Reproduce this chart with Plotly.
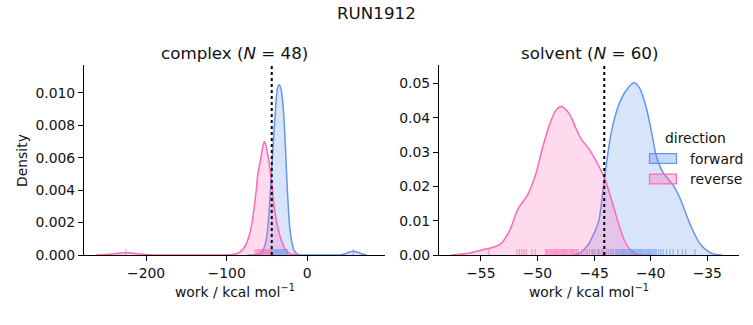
import plotly.graph_objects as go

# ---------------- data ----------------
suptitle = "RUN1912"
panel_titles = ["complex (<i>N</i> = 48)", "solvent (<i>N</i> = 60)"]
hue_labels = ["forward", "reverse"]
legend_title = "direction"
x_label = "work / kcal mol<sup>−1</sup>"
y_label = "Density"

# KDE curves (x in kcal/mol, density)
complex_fwd_x = [-74, -66, -61, -57, -54, -51.2, -49, -47.1, -44.7, -42.2, -40, -38, -36.3, -34.7, -33, -31,
                 -29, -27.3, -25.6, -23.5, -21.5, -19.4, -16.5, -13, -9, -4, 10, 30, 40, 46, 51, 57, 63, 68, 74]
complex_fwd_y = [0, 0.00001, 0.00004, 0.00015, 0.0004, 0.00086, 0.0017, 0.0029, 0.0049, 0.0069, 0.0086, 0.0099,
                 0.0104, 0.0105, 0.0103, 0.0097, 0.0085, 0.0069, 0.0049, 0.0029, 0.0016, 0.00086, 0.0003, 0.00008,
                 0.00001, 0, 0, 0, 0.00001, 0.00006, 0.00016, 0.00024, 0.00016, 0.00006, 0]

complex_rev_x = [-262, -250, -240, -232, -225, -218, -210, -200, -190, -180, -150, -120, -100, -92, -87, -83.5,
                 -79, -74.4, -70, -66, -63.5, -61.6, -59.5, -57.9, -55.5, -53.3, -51, -49.5, -47.9, -45.4, -43,
                 -40.9, -37, -34, -31.8, -28, -24, -19.4, -14, -9]
complex_rev_y = [0, 0.00003, 0.00008, 0.00013, 0.00015, 0.00013, 0.00008, 0.00003, 0.000005, 0, 0, 0, 0.00001,
                 0.00004, 0.0001, 0.0002, 0.0004, 0.00086, 0.0016, 0.0029, 0.0039, 0.0049, 0.0055, 0.0059, 0.0066,
                 0.0070, 0.0067, 0.0063, 0.0059, 0.0049, 0.0039, 0.0029, 0.0018, 0.0012, 0.00086, 0.0004, 0.00015,
                 0.00005, 0.00001, 0]

solvent_fwd_x = [-46.8, -46.4, -45.6, -45.2, -44.6, -44.2, -43.9, -43.5, -42.9, -42.3, -41.5, -41.0, -40.4,
                 -39.9, -39.5, -38.9, -38.0, -37.4, -36.5, -35.6, -34.6, -33.7]
solvent_fwd_y = [0, 0.0003, 0.0027, 0.0050, 0.0098, 0.0193, 0.0269, 0.0355, 0.0431, 0.0473, 0.0502, 0.0488,
                 0.0431, 0.0355, 0.0288, 0.0240, 0.0203, 0.0165, 0.0088, 0.0031, 0.0005, 0]

solvent_rev_x = [-57.6, -56.1, -54.9, -54.0, -53.3, -52.5, -51.7, -50.9, -50.2, -49.6, -49.0, -48.4, -47.9,
                 -47.2, -46.6, -46.1, -45.6, -44.9, -44.05, -43.5, -42.9, -42.3, -41.7, -41.0, -40.0]
solvent_rev_y = [0, 0.0005, 0.0015, 0.0022, 0.0031, 0.0069, 0.0136, 0.0174, 0.0231, 0.0307, 0.0374, 0.0421,
                 0.0433, 0.0412, 0.0369, 0.0336, 0.0316, 0.0279, 0.0222, 0.0165, 0.0098, 0.0041, 0.0012, 0, 0]

# individual work values (rug)
complex_fwd_rug = [-45.0, -43.8, -42.5, -41.6, -40.8, -40.1, -39.5, -39.0, -38.5, -38.0, -37.6, -37.2, -36.8,
                   -36.4, -36.0, -35.7, -35.4, -35.1, -34.8, -34.5, -34.2, -33.9, -33.6, -33.3, -33.0, -32.7,
                   -32.4, -32.1, -31.8, -31.4, -31.0, -30.6, -30.2, -29.8, -29.4, -29.0, -28.5, -28.0, -27.5,
                   -27.0, -26.5, -26.0, -25.5, -25.0, -24.5, -34.6, -37.9, 57.0]
complex_rev_rug = [-225.0, -65.0, -63.5, -62.3, -61.2, -60.3, -59.5, -58.8, -58.1, -57.5, -56.9, -56.4, -55.9,
                   -55.4, -54.9, -54.5, -54.1, -53.7, -53.3, -52.9, -52.5, -52.1, -51.7, -51.3, -50.9, -50.5,
                   -50.1, -49.7, -49.3, -48.9, -48.5, -48.1, -47.7, -47.3, -46.9, -46.5, -46.1, -45.7, -45.3,
                   -44.9, -44.5, -53.5, -55.1, -51.9, -57.2, -49.5, -60.8, -47.5]
solvent_fwd_rug = [-45.1, -44.6, -44.3, -43.9, -43.7, -43.5, -43.3, -43.1, -43.0, -42.9, -42.8, -42.7, -42.6,
                   -42.5, -42.4, -42.3, -42.2, -42.1, -42.0, -41.9, -41.85, -41.8, -41.7, -41.6, -41.55, -41.5,
                   -41.45, -41.4, -41.3, -41.25, -41.2, -41.1, -41.0, -40.95, -40.9, -40.8, -40.7, -40.65, -40.6,
                   -40.5, -40.4, -40.3, -40.2, -40.1, -40.0, -39.9, -39.8, -39.7, -39.6, -39.5, -39.3, -39.1,
                   -38.9, -38.6, -38.3, -38.0, -37.6, -37.2, -36.9, -36.1]
solvent_rev_rug = [-54.3, -51.8, -51.6, -51.4, -51.2, -51.0, -50.5, -50.2, -49.3, -49.2, -49.1, -49.0, -48.9,
                   -48.8, -48.75, -48.7, -48.6, -48.5, -48.4, -48.3, -48.25, -48.2, -48.1, -48.05, -48.0, -47.9,
                   -47.85, -47.8, -47.7, -47.65, -47.6, -47.55, -47.5, -47.45, -47.4, -47.3, -47.2, -47.1, -47.0,
                   -46.9, -46.85, -46.8, -46.7, -46.6, -46.55, -46.5, -46.4, -46.1, -45.9, -45.7, -45.6, -45.4,
                   -45.2, -45.0, -44.9, -44.7, -44.5, -44.2, -43.9, -43.4]

# dotted reference lines (estimate of free energy)
complex_ref = -44.1
solvent_ref = -44.1

complex_xticks = [-200, -100, 0]
complex_xticktext = ["−200", "−100", "0"]
complex_yticks = [0, 0.002, 0.004, 0.006, 0.008, 0.010]
complex_yticktext = ["0.000", "0.002", "0.004", "0.006", "0.008", "0.010"]
solvent_xticks = [-55, -50, -45, -40, -35]
solvent_xticktext = ["−55", "−50", "−45", "−40", "−35"]
solvent_yticks = [0, 0.01, 0.02, 0.03, 0.04, 0.05]
solvent_yticktext = ["0.00", "0.01", "0.02", "0.03", "0.04", "0.05"]

# ---------------- styling ----------------
W, H = 753, 325
BLUE = "rgb(100,149,237)"
PINK = "rgb(255,105,180)"
BLUE_F = "rgba(100,149,237,0.25)"
PINK_F = "rgba(255,105,180,0.25)"
FONT = "DejaVu Sans"
TXT = "#111111"

complex_xrange = [-277, 96.4]
complex_yrange = [0, 0.01169]
solvent_xrange = [-58.7, -32.2]
solvent_yrange = [0, 0.0553]

ax_top, ax_bot = 67, 261.5
ydom = [1 - ax_bot / H, 1 - ax_top / H]
axis_h = ax_bot - ax_top
left_dom = [84 / W, 385 / W]
right_dom = [439 / W, 739 / W]

fig = go.Figure()


def add_panel(xa, ya, fx, fy, rx, ry, frug, rrug, ref, yrange):
    fig.add_trace(go.Scatter(x=fx, y=fy, mode="lines", line=dict(color=BLUE, width=1.5, shape="spline", smoothing=0.8),
                             fill="tozeroy", fillcolor=BLUE_F, xaxis=xa, yaxis=ya, showlegend=False, hoverinfo="skip"))
    fig.add_trace(go.Scatter(x=rx, y=ry, mode="lines", line=dict(color=PINK, width=1.5, shape="spline", smoothing=0.8),
                             fill="tozeroy", fillcolor=PINK_F, xaxis=xa, yaxis=ya, showlegend=False, hoverinfo="skip"))
    rug_len_px = 5
    ymid = yrange[1] * (rug_len_px / 2) / axis_h
    for vals, col in ((frug, BLUE), (rrug, PINK)):
        fig.add_trace(go.Scatter(x=vals, y=[ymid] * len(vals), mode="markers",
                                 marker=dict(symbol="line-ns", size=rug_len_px, color=col,
                                             line=dict(color=col, width=1.2)),
                                 opacity=0.6, xaxis=xa, yaxis=ya, showlegend=False, hoverinfo="skip",
                                 cliponaxis=False))
    fig.add_trace(go.Scatter(x=[ref, ref], y=[yrange[0], yrange[1]], mode="lines",
                             line=dict(color="black", width=2, dash="dot"),
                             xaxis=xa, yaxis=ya, showlegend=False, hoverinfo="skip"))


add_panel("x", "y", complex_fwd_x, complex_fwd_y, complex_rev_x, complex_rev_y,
          complex_fwd_rug, complex_rev_rug, complex_ref, complex_yrange)
add_panel("x2", "y2", solvent_fwd_x, solvent_fwd_y, solvent_rev_x, solvent_rev_y,
          solvent_fwd_rug, solvent_rev_rug, solvent_ref, solvent_yrange)

axis_common = dict(showgrid=False, zeroline=False, showline=True, linecolor="black", linewidth=1.1,
                   ticks="outside", ticklen=5, tickwidth=1.1, tickcolor="black",
                   tickfont=dict(family=FONT, size=13.9, color=TXT), layer="above traces", fixedrange=True)

fig.update_layout(
    width=W, height=H, autosize=False, margin=dict(l=0, r=0, t=0, b=0, pad=0),
    paper_bgcolor="white", plot_bgcolor="white",
    font=dict(family=FONT, color=TXT),
    xaxis=dict(domain=left_dom, range=complex_xrange, tickvals=complex_xticks, ticktext=complex_xticktext,
               anchor="y", **axis_common),
    yaxis=dict(domain=ydom, range=complex_yrange, tickvals=complex_yticks, ticktext=complex_yticktext,
               anchor="x", **axis_common),
    xaxis2=dict(domain=right_dom, range=solvent_xrange, tickvals=solvent_xticks, ticktext=solvent_xticktext,
                anchor="y2", **axis_common),
    yaxis2=dict(domain=ydom, range=solvent_yrange, tickvals=solvent_yticks, ticktext=solvent_yticktext,
                anchor="x2", **axis_common),
)


def px_ann(text, x, y, size, xanchor="center", angle=0):
    fig.add_annotation(text=text, x=x / W, y=1 - y / H, xref="paper", yref="paper", showarrow=False,
                       xanchor=xanchor, yanchor="middle", textangle=angle,
                       font=dict(family=FONT, size=size, color=TXT))


px_ann(suptitle, 376.5, 13, 16.7)
px_ann(panel_titles[0], (84 + 385) / 2, 54, 16.7)
px_ann(panel_titles[1], (439 + 739) / 2, 54, 16.7)
px_ann(x_label, (84 + 385) / 2, 298, 13.9)
px_ann(x_label, (439 + 739) / 2, 298, 13.9)
px_ann(y_label, 22, 165, 13.9, angle=-90)

# legend (drawn manually)
px_ann(legend_title, 695, 141, 13.9)
for i, (lab, col, fcol) in enumerate(zip(hue_labels, [BLUE, PINK],
                                         ["rgba(100,149,237,0.35)", "rgba(255,105,180,0.35)"])):
    yc = 162.5 + i * 21
    fig.add_shape(type="rect", xref="paper", yref="paper", x0=649.5 / W, x1=676.5 / W,
                  y0=1 - (yc + 5) / H, y1=1 - (yc - 5) / H, line=dict(color=col, width=1.2), fillcolor=fcol)
    px_ann(lab, 688, yc, 13.9, xanchor="left")

fig.write_html("out.html", config={"responsive": False, "displayModeBar": False})
